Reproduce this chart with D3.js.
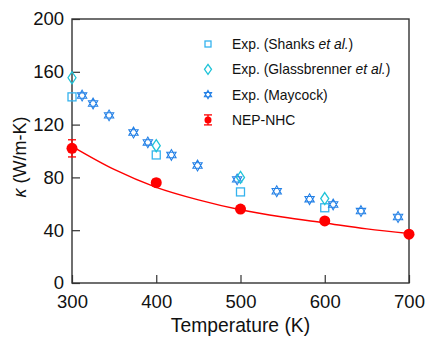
<!DOCTYPE html>
<html lang="en">
<head>
<meta charset="utf-8" />
<title>Thermal conductivity vs temperature</title>
<script src="https://d3js.org/d3.v7.min.js"></script>
<style>
  body { margin: 0; background: white; }
  text { font-family: "Liberation Sans", Arial, sans-serif; fill: #111; }
</style>
</head>
<body>
<svg width="427" height="337"></svg>
<script>

//	data
var shanksT = [300, 400, 500, 600];
var shanksK = [141, 97, 69, 57];

var glassT = [300, 400, 500, 600];
var glassK = [155.5, 104, 80, 64];

var mayT = [312, 325, 344, 373, 390, 418, 449, 496, 543, 582, 610, 643, 687];
var mayK = [142, 136, 127, 114, 106.5, 97, 89, 78.5, 69.5, 63.5, 59.5, 54.5, 50];

var nepT = [300, 400, 500, 600, 700];
var nepK = [102, 76, 56, 47, 37];
var nepErr = [6.5, 2.5, 1.5, 1.5, 1];

//	fitted curve
var fitT = [300, 350, 400, 450, 500, 550, 600, 650, 700];
var fitK = [103.5, 86, 72.5, 63, 55.5, 50, 45.5, 41, 37.5];

var xTicks = [300, 400, 500, 600, 700];
var yTicks = [0, 40, 80, 120, 160, 200];

//	svg selection and sizing
var svg = d3.select("svg"),
	margin = {left: 72, right: 18, top: 19, bottom: 54},
	width = 427 - margin.left - margin.right,
	height = 337 - margin.top - margin.bottom;

var g = svg.append("g").attr("transform", "translate(" + margin.left + "," + margin.top + ")");

var x = d3.scaleLinear().domain([300, 700]).range([0, width]);
var y = d3.scaleLinear().domain([0, 200]).range([height, 0]);

var cSquare = "#35b3ee", cDiamond = "#20c4d8", cStar = "#2380e6", cRed = "#ff0000";

//	axes with inward ticks
var xAxis = g.append("g")
	.attr("transform", "translate(0," + height + ")")
	.call(d3.axisBottom(x).tickValues(xTicks).tickSizeInner(-8).tickSizeOuter(0).tickPadding(12));
var yAxis = g.append("g")
	.call(d3.axisLeft(y).tickValues(yTicks).tickSizeInner(-8).tickSizeOuter(0).tickPadding(8));

[xAxis, yAxis].forEach(function(a) {
	a.select(".domain").remove();
	a.selectAll(".tick line").attr("stroke", "#333").attr("stroke-width", 1.2);
	a.selectAll(".tick text").style("font-size", "18.5px").attr("fill", "#111");
});

//	frame
g.append("rect")
	.attr("width", width).attr("height", height)
	.attr("fill", "none").attr("stroke", "#333").attr("stroke-width", 1.4);

//	axis titles
svg.append("text")
	.attr("x", margin.left + width / 2).attr("y", 332)
	.attr("text-anchor", "middle").style("font-size", "19.3px")
	.text("Temperature (K)");

svg.append("text")
	.attr("transform", "translate(26," + (margin.top + height / 2 + 6) + ") rotate(-90)")
	.attr("text-anchor", "middle").style("font-size", "18px")
	.html('<tspan font-style="italic">κ</tspan> (W/m-K)');

//	fitted line
g.append("path")
	.datum(d3.zip(fitT, fitK))
	.attr("d", d3.line().x(function(d) { return x(d[0]); }).y(function(d) { return y(d[1]); }).curve(d3.curveMonotoneX))
	.attr("fill", "none").attr("stroke", cRed).attr("stroke-width", 1.4);

//	marker shapes
var starPath = function(r) {
	var s = r * Math.sqrt(3) / 2, h = r / 2;
	return "M0," + (-r) + "L" + s + "," + h + "L" + (-s) + "," + h + "Z" +
		"M0," + r + "L" + s + "," + (-h) + "L" + (-s) + "," + (-h) + "Z";
};
function drawSquare(sel, size) {
	sel.append("rect").attr("x", -size / 2).attr("y", -size / 2).attr("width", size).attr("height", size)
		.attr("fill", "none").attr("stroke", cSquare).attr("stroke-width", 1.3);
}
function drawDiamond(sel, w, h) {
	sel.append("path").attr("d", "M0," + (-h / 2) + "L" + (w / 2) + ",0L0," + (h / 2) + "L" + (-w / 2) + ",0Z")
		.attr("fill", "none").attr("stroke", cDiamond).attr("stroke-width", 1.3);
}
function drawStar(sel, r) {
	sel.append("path").attr("d", starPath(r))
		.attr("fill", "none").attr("stroke", cStar).attr("stroke-width", 1.05);
}
function drawNep(sel, r, err) {
	sel.append("line").attr("y1", -err).attr("y2", err).attr("stroke", cRed).attr("stroke-width", 1.3);
	sel.append("line").attr("x1", -4).attr("x2", 4).attr("y1", -err).attr("y2", -err).attr("stroke", cRed).attr("stroke-width", 1.3);
	sel.append("line").attr("x1", -4).attr("x2", 4).attr("y1", err).attr("y2", err).attr("stroke", cRed).attr("stroke-width", 1.3);
	sel.append("circle").attr("r", r).attr("fill", cRed);
}

//	data points
g.selectAll(".sq").data(d3.zip(shanksT, shanksK)).enter().append("g")
	.attr("transform", function(d) { return "translate(" + x(d[0]) + "," + y(d[1]) + ")"; })
	.each(function() { drawSquare(d3.select(this), 8); });

g.selectAll(".st").data(d3.zip(mayT, mayK)).enter().append("g")
	.attr("transform", function(d) { return "translate(" + x(d[0]) + "," + y(d[1]) + ")"; })
	.each(function() { drawStar(d3.select(this), 5.4); });

g.selectAll(".dm").data(d3.zip(glassT, glassK)).enter().append("g")
	.attr("transform", function(d) { return "translate(" + x(d[0]) + "," + y(d[1]) + ")"; })
	.each(function() { drawDiamond(d3.select(this), 8, 12); });

g.selectAll(".nep").data(d3.zip(nepT, nepK, nepErr)).enter().append("g")
	.attr("transform", function(d) { return "translate(" + x(d[0]) + "," + y(d[1]) + ")"; })
	.each(function(d) { drawNep(d3.select(this), 5.5, y(0) - y(d[2])); });

//	legend
var legendLabels = [
	['Exp. (Shanks ', 'et al.', ')'],
	['Exp. (Glassbrenner ', 'et al.', ')'],
	['Exp. (Maycock)', '', ''],
	['NEP-NHC', '', '']
];
var legend = svg.append("g").attr("transform", "translate(208,44)");
legendLabels.forEach(function(l, i) {
	var row = legend.append("g").attr("transform", "translate(0," + (i * 25.3) + ")");
	if (i === 0) drawSquare(row, 6);
	if (i === 1) drawDiamond(row, 7, 10);
	if (i === 2) drawStar(row, 4.2);
	if (i === 3) drawNep(row, 3.5, 5);
	var t = row.append("text").attr("x", 24).attr("y", 5).style("font-size", "13.9px");
	t.append("tspan").text(l[0]);
	if (l[1]) t.append("tspan").attr("font-style", "italic").text(l[1]);
	if (l[2]) t.append("tspan").text(l[2]);
});

</script>
</body>
</html>
